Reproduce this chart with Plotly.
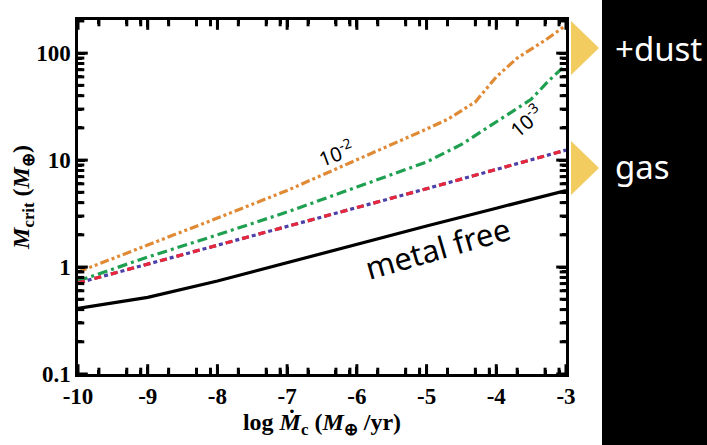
import math
import plotly.graph_objects as go

# ---- data ----
x_metal_free = [-10, -9, -8, -7, -6, -5, -4, -3]
y_metal_free = [0.41, 0.52, 0.74, 1.1, 1.64, 2.42, 3.55, 5.2]

x_gas = [-10, -9, -8, -7, -6, -5, -4, -3]
y_gas = [0.71, 1.07, 1.6, 2.4, 3.6, 5.4, 8.2, 12.4]

x_z3 = [-10, -9, -8, -7, -6, -5, -4.5, -4, -3.5, -3.25, -3]
y_z3 = [0.74, 1.24, 2.0, 3.27, 5.6, 9.6, 14, 23, 37, 55, 78]

x_z2 = [-10, -9, -8, -7, -6, -5, -4.7, -4.3, -4.0, -3.7, -3.3, -3]
y_z2 = [0.9, 1.6, 2.87, 5.2, 10, 19.5, 24, 35, 60, 90, 132, 182]

x_ticks = [-10, -9, -8, -7, -6, -5, -4, -3]
x_ticklabels = ["-10", "-9", "-8", "-7", "-6", "-5", "-4", "-3"]
y_ticks = [0.1, 1, 10, 100]
y_ticklabels = ["0.1", "1", "10", "100"]

x_minor = [round(i + f, 2) for i in range(-10, -3) for f in (0.3, 0.7, 0.9)]
y_minor = [round(m * d, 3) for d in (0.1, 1, 10, 100) for m in range(2, 10) if m * d < 205]

X_RANGE = [-10, -3]
Y_RANGE = [-1, 2.31]

fig = go.Figure()
fig.add_trace(go.Scatter(x=x_z2, y=y_z2, mode="lines",
                         line=dict(color="#E08A35", width=3.2, dash="9px,3px,3px,3px,3px,3px")))
fig.add_trace(go.Scatter(x=x_z3, y=y_z3, mode="lines",
                         line=dict(color="#1FA050", width=3.2, dash="10px,4px,3px,4px")))
fig.add_trace(go.Scatter(x=x_gas, y=y_gas, mode="lines",
                         line=dict(color="#4B3FA8", width=3.2, dash="7px,3px,4px,3px")))
fig.add_trace(go.Scatter(x=x_gas, y=y_gas, mode="lines",
                         line=dict(color="#E8283A", width=3.2, dash="7px,10px")))
fig.add_trace(go.Scatter(x=x_metal_free, y=y_metal_free, mode="lines",
                         line=dict(color="black", width=3.2)))

# inward tick marks on all four sides, drawn as clipped line markers at the frame edges
y_top = 10 ** Y_RANGE[1]
y_bot = 10 ** Y_RANGE[0]
def tick_trace(xs, ys, symbol, size):
    return go.Scatter(x=xs, y=ys, mode="markers", hoverinfo="skip", cliponaxis=True,
                      marker=dict(symbol=symbol, size=size, color="black",
                                  line=dict(color="black", width=3)))
for vals, sz in ((x_ticks, 14), (x_minor, 9)):
    fig.add_trace(tick_trace(vals, [y_bot] * len(vals), "line-ns", sz))
    fig.add_trace(tick_trace(vals, [y_top] * len(vals), "line-ns", sz))
for vals, sz in ((y_ticks, 14), (y_minor, 9)):
    fig.add_trace(tick_trace([X_RANGE[0]] * len(vals), vals, "line-ew", sz))
    fig.add_trace(tick_trace([X_RANGE[1]] * len(vals), vals, "line-ew", sz))

tickfont = dict(family="Liberation Serif", size=23, color="black")
minor_style = dict(tickmode="array", ticks="inside", ticklen=4.5, tickwidth=3,
                   tickcolor="black", showgrid=False)

fig.update_xaxes(range=X_RANGE, tickmode="array", tickvals=x_ticks,
                 ticktext=[f"<b>{t}</b>" for t in x_ticklabels],
                 ticks="inside", ticklen=7, tickwidth=3, tickcolor="black",
                 showline=True, linewidth=2.5, linecolor="black", mirror="ticks",
                 showgrid=False, zeroline=False, tickfont=tickfont,
                 minor=dict(minor_style, tickvals=x_minor),
                 title=dict(text="<b>log <i>Ṁ</i><sub>c</sub> (<i>M</i><sub>⊕</sub> /yr)</b>",
                            font=dict(family="Liberation Serif", size=24, color="black"),
                            standoff=2))
fig.update_yaxes(type="log", range=Y_RANGE, tickmode="array", tickvals=y_ticks,
                 ticktext=[f"<b>{t}</b>" for t in y_ticklabels],
                 ticks="inside", ticklen=7, tickwidth=3, tickcolor="black",
                 showline=True, linewidth=2.5, linecolor="black", mirror="ticks",
                 showgrid=False, zeroline=False, tickfont=tickfont,
                 minor=dict(minor_style, tickvals=y_minor),
                 title=dict(text="<b><i>M</i><sub>crit</sub> (<i>M</i><sub>⊕</sub>)</b>",
                            font=dict(family="Liberation Serif", size=24, color="black"),
                            standoff=0))

L, R, T, B = 78, 141, 20, 71
pw, ph = 707 - L - R, 445 - T - B
def px(x):
    return (x - L) / pw
def py(y):
    return (445 - B - y) / ph

# decorative side panel
shapes = [dict(type="rect", xref="paper", yref="paper", x0=px(602), x1=px(710),
               y0=py(-5), y1=py(450), fillcolor="black", line=dict(width=0), layer="above")]
for cy in (48, 168):
    path = f"M {px(571)} {py(cy-27)} L {px(571)} {py(cy+27)} L {px(599)} {py(cy)} Z"
    shapes.append(dict(type="path", xref="paper", yref="paper", path=path,
                       fillcolor="#F2CC5E", line=dict(width=0), layer="above"))
fig.update_layout(shapes=shapes)

ann_font = "Noto Sans"
annotations = [
    dict(x=px(613), y=py(48), xref="paper", yref="paper", text="+dust", showarrow=False,
         xanchor="left", yanchor="middle", font=dict(family=ann_font, size=33, color="white")),
    dict(x=px(613), y=py(166), xref="paper", yref="paper", text="gas", showarrow=False,
         xanchor="left", yanchor="middle", font=dict(family=ann_font, size=33, color="white")),
    dict(x=-6.3, y=math.log10(11.8), text="10<sup>-2</sup>", showarrow=False, textangle=-20,
         font=dict(family=ann_font, size=20, color="black")),
    dict(x=-3.58, y=math.log10(23.5), text="10<sup>-3</sup>", showarrow=False, textangle=-40,
         font=dict(family=ann_font, size=20, color="black")),
    dict(x=-4.85, y=math.log10(1.52), text="metal free", showarrow=False, textangle=-16,
         font=dict(family=ann_font, size=31, color="black")),
]
fig.update_layout(annotations=annotations)

fig.update_layout(width=707, height=445, margin=dict(l=L, r=R, t=T, b=B),
                  paper_bgcolor="white", plot_bgcolor="white", showlegend=False)

fig.write_html("out.html")
